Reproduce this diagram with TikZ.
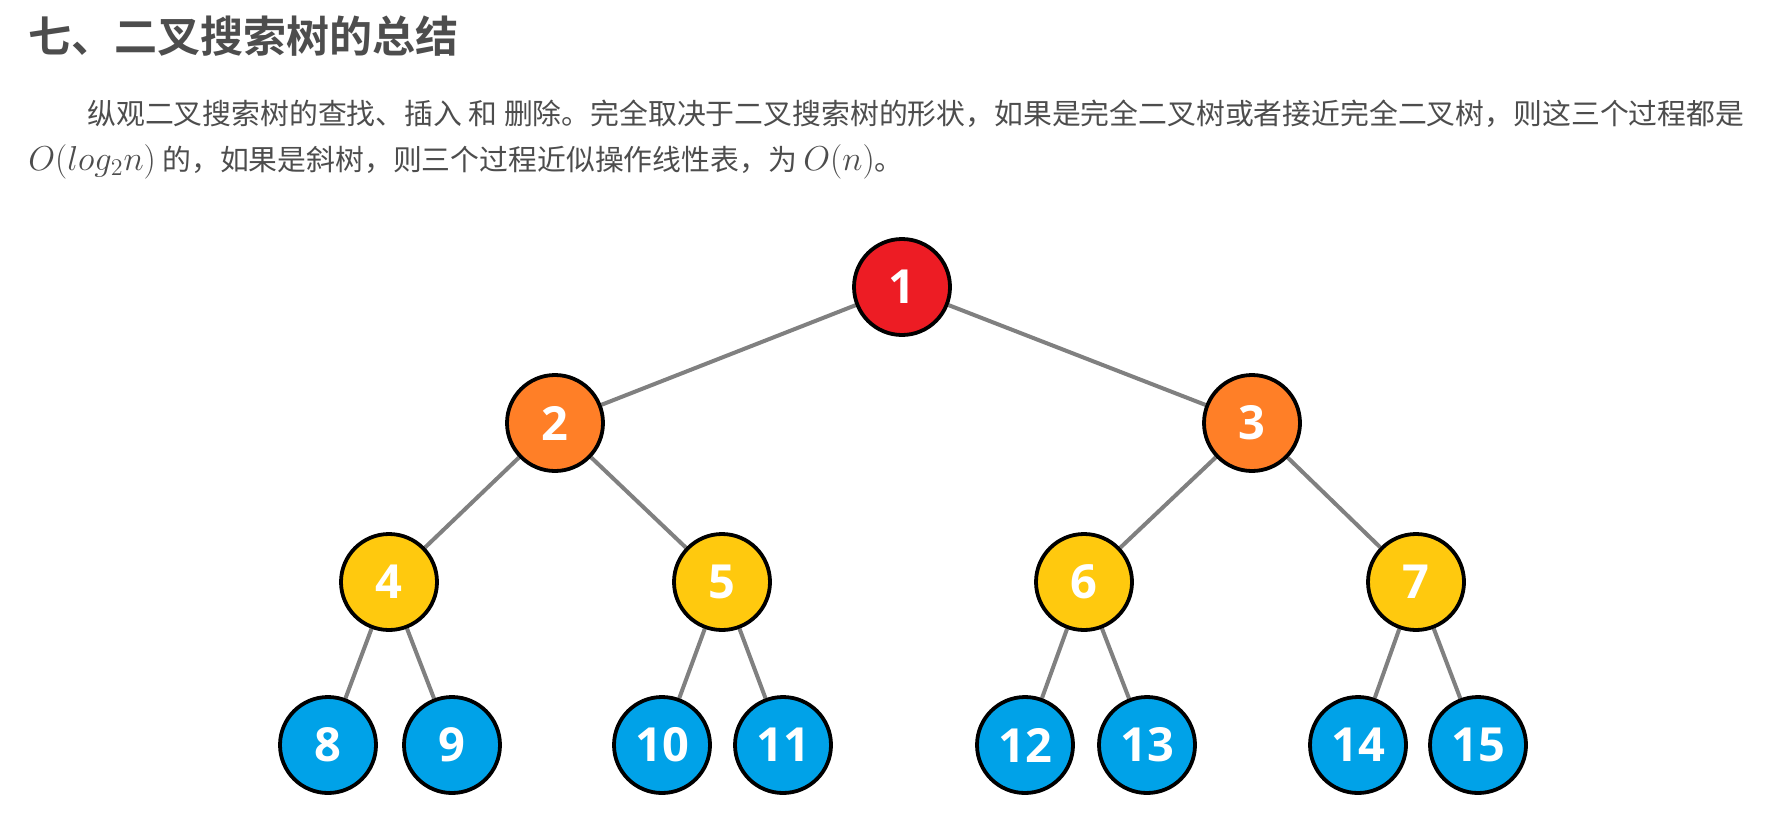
\documentclass[tikz,border=0pt]{standalone}
\usepackage{fontspec}
\newfontfamily\cjk{Noto Sans CJK SC}[BoldFont={Noto Sans CJK SC Bold}]
\newfontfamily\numfont{Open Sans}
\usetikzlibrary{backgrounds}
\definecolor{lvA}{RGB}{237,28,36}
\definecolor{lvB}{RGB}{255,127,39}
\definecolor{lvC}{RGB}{255,201,14}
\definecolor{lvD}{RGB}{0,162,232}
\definecolor{edgegray}{RGB}{128,128,128}
\definecolor{ink}{RGB}{77,77,77}
\newcommand\bigmath[1]{{\fontsize{17.4}{17}\selectfont$#1$}}

\begin{document}
\begin{tikzpicture}[x=0.5pt,y=-0.5pt,
  key/.style={circle,draw=black,line width=1.9pt,minimum size=48pt,inner sep=0pt,
    text=white,font=\numfont\bfseries\fontsize{23.5}{23.5}\selectfont},
  link/.style={draw=edgegray,line width=2pt},
  prose/.style={anchor=base west,inner sep=0pt,text=ink,font=\cjk\fontsize{14.42}{17}\selectfont}]
 \useasboundingbox (0,0) rectangle (1780,830);
 % heading and text
 \node[anchor=base west,inner sep=0pt,text=ink,font=\cjk\bfseries\fontsize{21.5}{24}\selectfont]
   (title) at (28,52) {七、二叉搜索树的总结};
 \node[prose] (lineA) at (87,124)
   {纵观二叉搜索树的查找、插入 和 删除。完全取决于二叉搜索树的形状，如果是完全二叉树或者接近完全二叉树，则这三个过程都是};
 \node[prose] (lineB) at (28,170)
   {\bigmath{O(log_2n)} 的，如果是斜树，则三个过程近似操作线性表，为 \bigmath{O(n)}。};
 % the tree, level by level
 \foreach \k/\px/\py/\col in {1/902/287/lvA,
    2/555/423/lvB, 3/1252/423/lvB,
    4/389/582/lvC, 5/722/582/lvC, 6/1084/582/lvC, 7/1416/582/lvC,
    8/328/745/lvD, 9/452/745/lvD, 10/662/745/lvD, 11/783/745/lvD,
    12/1025/745/lvD, 13/1147/745/lvD, 14/1358/745/lvD, 15/1478/745/lvD}{
   \node[key,fill=\col] (n\k) at (\px,\py) {\k};
 }
 \begin{scope}[on background layer]
  \fill[white] (0,0) rectangle (1780,830);
  \foreach \a/\b in {1/2,1/3,2/4,2/5,3/6,3/7,4/8,4/9,5/10,5/11,6/12,6/13,7/14,7/15}
   \draw[link] (n\a) -- (n\b);
 \end{scope}
\end{tikzpicture}
\end{document}
